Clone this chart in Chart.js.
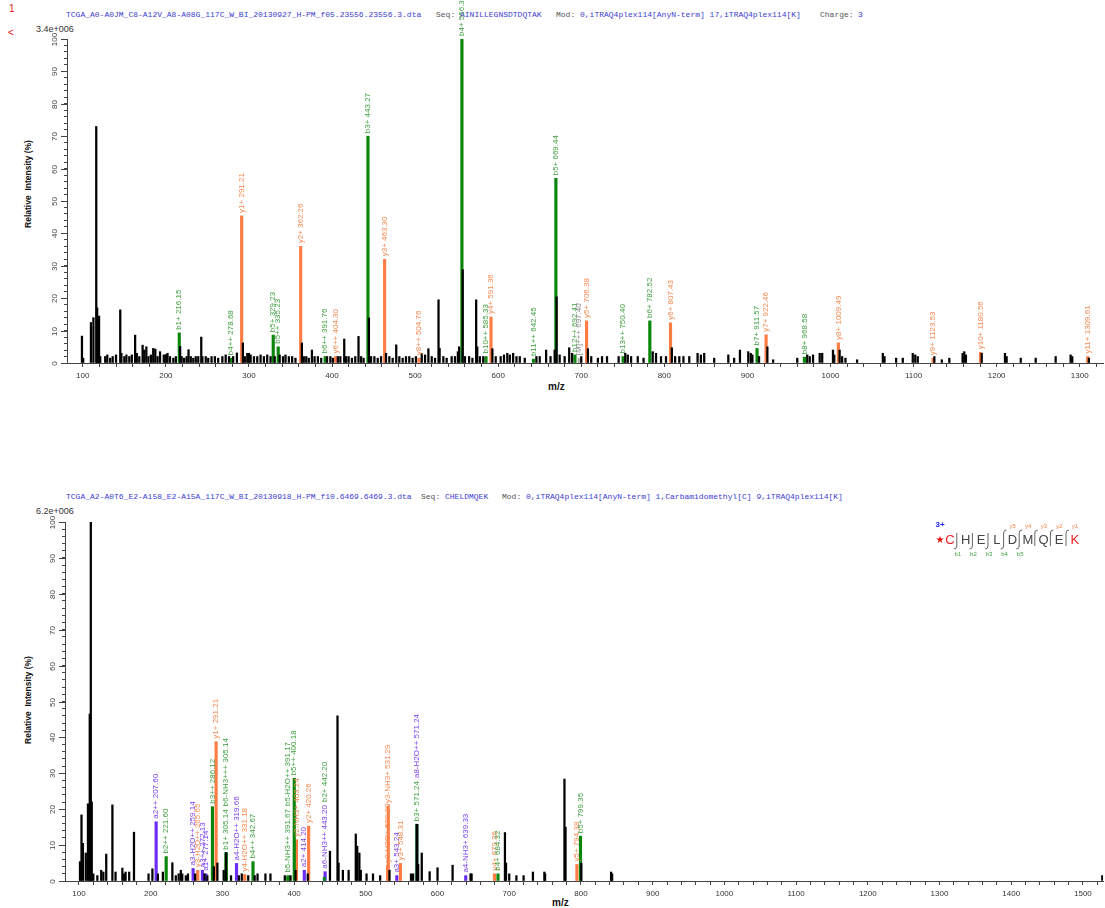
<!DOCTYPE html>
<html lang="en">
<head>
<meta charset="UTF-8">
<title>Annotated MS/MS spectra</title>
<script src="https://cdn.jsdelivr.net/npm/chart.js"></script>
<style>
  body { margin: 0; padding: 0; background: #fff; width: 1105px; height: 908px; position: relative; overflow: hidden;
         font-family: 'Liberation Sans', Arial, sans-serif; }
  canvas { position: absolute; left: 0; }
  .hdr { position: absolute; font-family: 'Liberation Mono', monospace; font-size: 8px; line-height: 10px; white-space: pre; }
  .blue { color: #3c3cd2; }
  .grey { color: #555; }
  .scale { position: absolute; font-size: 9px; color: #333; line-height: 10px; }
  .ytitle { position: absolute; width: 120px; height: 12px; line-height: 12px; text-align: center; font-weight: bold;
            font-size: 8.5px; color: #111; transform: rotate(-90deg); white-space: pre; }
  .xtitle { position: absolute; font-weight: bold; font-size: 10px; color: #111; }
  .mark { position: absolute; color: #e01010; font-size: 10px; }
</style>
</head>
<body>

<div class="mark" style="left:9px; top:3px;">1</div>
<div class="mark" style="left:8px; top:27px;">&lt;</div>

<!-- top header -->
<div class="hdr blue" style="left:66px; top:10px;">TCGA_A0-A0JM_C8-A12V_A8-A08G_117C_W_BI_20130927_H-PM_f05.23556.23556.3.dta</div>
<div class="hdr grey" style="left:436px; top:10px;">Seq:</div>
<div class="hdr blue" style="left:460px; top:10px;">AINILLEGNSDTDQTAK</div>
<div class="hdr grey" style="left:556px; top:10px;">Mod:</div>
<div class="hdr blue" style="left:580px; top:10px;">0,iTRAQ4plex114[AnyN-term] 17,iTRAQ4plex114[K]</div>
<div class="hdr grey" style="left:820px; top:10px;">Charge:</div>
<div class="hdr blue" style="left:858px; top:10px;">3</div>
<div class="scale" style="left:36px; top:24px;">3.4e+006</div>
<div class="ytitle" style="left:-32px; top:178px;">Relative  Intensity (%)</div>
<div class="xtitle" style="left:548px; top:381px;">m/z</div>

<!-- bottom header -->
<div class="hdr blue" style="left:66px; top:492px;">TCGA_A2-A0T6_E2-A158_E2-A15A_117C_W_BI_20130918_H-PM_f10.6469.6469.3.dta</div>
<div class="hdr grey" style="left:421px; top:492px;">Seq:</div>
<div class="hdr blue" style="left:445px; top:492px;">CHELDMQEK</div>
<div class="hdr grey" style="left:502px; top:492px;">Mod:</div>
<div class="hdr blue" style="left:526px; top:492px;">0,iTRAQ4plex114[AnyN-term] 1,Carbamidomethyl[C] 9,iTRAQ4plex114[K]</div>
<div class="scale" style="left:36px; top:506px;">6.2e+006</div>
<div class="ytitle" style="left:-32px; top:694px;">Relative  Intensity (%)</div>
<div class="xtitle" style="left:552px; top:897px;">m/z</div>

<canvas id="topSpec" width="1105" height="400" style="top:0px;"></canvas>
<canvas id="botSpec" width="1105" height="428" style="top:480px;"></canvas>

<script>
// ---------- top spectrum (AINILLEGNSDTDQTAK, 3+) ----------
const topPeakMz = [99.0, 100.5, 109.8, 112.8, 116.2, 117.3, 118.5, 119.6, 121, 127, 129.5, 133, 136, 140, 145.1, 146.5, 150, 152.5,
  156, 159, 163, 165, 168, 172, 174, 176.5, 179, 182, 184.8, 187.3, 190, 193, 197.5, 200, 202, 205, 209, 212, 217.2, 219, 222,
  225, 227.3, 230, 233, 236, 239, 242.6, 244, 248, 251, 255, 259, 263, 268, 272, 276, 281, 285.5, 292.7, 295, 298, 300, 302, 306,
  310, 314, 318, 322, 326, 331, 337, 341, 344, 348, 352, 356, 363.7, 366, 369, 372, 375.8, 379, 383, 387, 394, 398, 401, 407, 410,
  414.7, 417, 420, 424, 428, 431.9, 435, 438, 444.4, 447, 451, 455, 459, 465, 469, 473, 477.3, 481, 485, 489, 493, 497, 501, 508,
  512, 516, 520, 524, 528.2, 529.5, 534, 538, 544, 548, 551.5, 553, 557.3, 560, 565, 569, 573.5, 574.8, 578, 582, 593, 597, 603,
  607, 611, 614, 618, 622, 626, 632, 646, 650, 657.7, 663, 668, 670.3, 674, 680, 685.5, 689, 700, 708, 712, 720, 725, 731, 745,
  753, 756, 760, 768, 775, 786, 790, 796, 802, 809, 813, 818, 823, 830, 840, 844, 848, 860, 877, 884, 891, 901, 904, 906, 914,
  924, 931, 960, 972, 975, 979, 987, 990, 1003, 1004.5, 1011, 1014, 1018, 1032, 1063, 1065, 1079, 1087, 1099, 1102, 1105, 1125,
  1134, 1143, 1159, 1161, 1163, 1182, 1210, 1212, 1229, 1247, 1271, 1289, 1291, 1311];
const topPeakInt = [8.3, 1.5, 12.5, 14, 73, 17, 3, 14.5, 2, 2, 2.5, 1.5, 2, 2.5, 16.4, 3, 2, 2.5,
  2, 2.5, 8.6, 3, 2, 5.5, 4, 5, 2, 2.5, 4.5, 4.3, 2, 3.5, 2.5, 2.6, 3, 2, 1.5, 2, 5.1, 2, 1.5,
  2, 4.1, 2, 1.5, 2, 2, 8.0, 2, 2, 1.5, 2, 2, 1.5, 2, 2.5, 2, 2, 3.1, 6.2, 2, 3, 3, 2.5, 2,
  2, 2.5, 2, 2.5, 2, 2, 2.5, 2, 2.5, 2, 2, 1.5, 6.2, 2, 2, 1.5, 4, 2, 2, 1.5, 2, 2, 1.5, 2, 2,
  7.4, 2, 2, 1.5, 2, 8.2, 2, 1.5, 13.9, 2, 2, 1.5, 2, 3, 2, 1.5, 5.6, 2, 1.5, 2, 2, 1.5, 2, 3,
  2.5, 4.4, 2, 1.5, 19.5, 4.5, 2, 1.5, 2, 2, 3.5, 5, 28.8, 2, 2, 1.5, 19.5, 5, 2, 2, 4.4, 2, 2,
  2.5, 3, 2.5, 3, 2, 2, 1.5, 2, 2, 4, 2, 4, 20.4, 2.5, 2, 4.7, 3, 2, 4.4, 2, 1.5, 2, 2, 2,
  3, 2.5, 2, 2, 1.5, 3.5, 3, 2, 2, 4.7, 2, 2, 2, 2, 3, 2.5, 3, 1.5, 2.5, 1.5, 4, 3.5, 3, 2.5, 2,
  5, 1, 1.5, 2.5, 2, 2.5, 3, 3, 4, 2.5, 4, 2, 1.5, 1, 3, 2, 1.5, 1.5, 3, 2.5, 2, 2,
  1, 1.5, 3, 3.5, 2.5, 3, 3, 2, 1.5, 1.5, 2, 2.5, 2, 1.5];
const topIonMz = [216.15, 278.68, 291.21, 329.23, 335.23, 362.26, 391.76, 404.30, 443.27, 463.30, 504.76, 556.36, 585.33,
  591.36, 642.45, 669.44, 692.41, 697.40, 706.38, 750.40, 782.52, 807.43, 911.57, 922.46, 968.58, 1009.49, 1123.53, 1180.56, 1309.61];
const topIonInt = [9.3, 1.5, 45.4, 8.6, 5.0, 36, 2.0, 2.0, 70, 32, 1.5, 100, 2.0,
  14.2, 1.2, 57, 2.5, 1.5, 13, 2, 13, 12.4, 4.5, 8.7, 1.8, 6.2, 1.5, 3.3, 2.0];
const topIonName = ['b1+', 'b4++', 'y1+', 'b5+', 'b5++', 'y2+', 'b6++', 'y6++', 'b3+', 'y3+', 'y8++', 'b4+', 'b10++',
  'y4+', 'b11++', 'b5+', 'b12++', '[M]+++', 'y5+', 'b13++', 'b6+', 'y6+', 'b7+', 'y7+', 'b8+', 'y8+', 'y9+', 'y10+', 'y11+'];
const topIonType = ['b', 'b', 'y', 'b', 'b', 'y', 'b', 'y', 'b', 'y', 'y', 'b', 'b',
  'y', 'b', 'b', 'b', 'm', 'y', 'b', 'b', 'y', 'b', 'y', 'b', 'y', 'y', 'y', 'y'];
const topTickMz = [100, 200, 300, 400, 500, 600, 700, 800, 900, 1000, 1100, 1200, 1300];

// ---------- bottom spectrum (CHELDMQEK, 3+) ----------
const botPeakMz = [101.4, 103.5, 105.5, 109.5, 112.5, 115, 116.5, 117.8, 120, 125.6, 131, 134, 138, 146.6, 151, 160.5, 163, 165,
  170, 176.7, 197, 202.4, 210, 217, 230.2, 235, 239, 242, 244, 249, 252, 262, 275, 279, 288, 293, 301.8, 305.14, 312, 323, 327,
  336, 345, 349, 360, 367, 387, 395, 402, 419, 450, 460.5, 462, 468, 476, 486, 488, 491, 493, 501, 510, 520, 533, 563, 566,
  571.24, 573, 578, 589, 600, 621, 646, 647.5, 694, 695.5, 700, 710, 720, 733, 749, 750, 777, 778.5, 800.5, 842, 843.5, 1527];
const botPeakInt = [5.4, 18.4, 10.5, 7.8, 21.5, 46.5, 100, 22, 2, 1.5, 3, 2.5, 7.5, 21.2, 2.5, 3.6, 2, 2.5,
  2.5, 13.6, 2, 3.4, 2, 2.5, 5.1, 1.5, 2, 3, 2, 1.5, 2, 2, 2, 1.5, 4, 5, 3, 7.9, 1.5, 1.5, 2,
  1.5, 1.5, 2, 2, 2, 1.5, 1.5, 3, 2, 8.3, 46, 5, 3, 3, 13.1, 9.7, 7.8, 3, 2, 2, 1.5, 3, 2, 2,
  15.8, 4.6, 7.8, 2.6, 3.7, 4.4, 2, 2, 13.5, 5, 2, 1.5, 1.5, 2.5, 2.5, 2, 28.4, 15, 5, 2.5, 2, 1.5];
const botIonMz = [207.60, 221.60, 259.14, 265.65, 272.13, 277.14, 286.12, 291.21, 305.14, 305.14, 319.66, 331.18, 342.67,
  391.67, 391.17, 400.18, 403.24, 414.20, 420.26, 443.20, 442.20, 530.30, 531.29, 543.24, 548.31, 571.24, 571.24,
  639.33, 679.36, 684.32, 794.38, 799.35];
const botIonInt = [16.5, 6.8, 3.5, 3.0, 3.0, 2.0, 20.7, 38.8, 7.9, 7.9, 4.9, 1.8, 5.4,
  1.5, 1.2, 28.6, 11.5, 3.0, 15.3, 2.6, 1.0, 4.3, 20.9, 1.5, 4.9, 15.8, 15.8,
  1.5, 2.0, 2.0, 4.6, 12.5];
const botIonName = ['a2++', 'b2++', 'a3-H2O++', 'y3-H2O++', 'a3++', 'a1+', 'b3++', 'y1+', 'b1+', 'b6-NH3+++', 'a4-H2O++', 'y4-H2O++', 'b4++',
  'b5-NH3++', 'b5-H2O++', 'b5++', 'y2-NH3+', 'a2+', 'y2+', 'a6-NH3++', 'b2+', 'y3-H2O+', 'y3-NH3+', 'a3+', 'y3+', 'b3+', 'a8-H2O++',
  'a4-NH3+', 'y4+', 'b4+', 'y5+', 'b5+'];
const botIonType = ['a', 'b', 'a', 'y', 'a', 'a', 'b', 'y', 'b', 'b', 'a', 'y', 'b',
  'b', 'b', 'b', 'y', 'a', 'y', 'a', 'b', 'y', 'y', 'a', 'y', 'b', 'a',
  'a', 'y', 'b', 'y', 'b'];
const botTickMz = [100, 200, 300, 400, 500, 600, 700, 800, 900, 1000, 1100, 1200, 1300, 1400, 1500];

// peptide diagram of the bottom spectrum
const botResidues = ['C', 'H', 'E', 'L', 'D', 'M', 'Q', 'E', 'K'];
const botModified = [true, false, false, false, false, false, false, false, true];

const barColor = { b: '#0a870a', y: '#ff7d45', a: '#6b2cf5', m: '#b5b5b5' };
const textColor = { b: '#3f9f3f', y: '#f5884f', a: '#7a40ee', m: '#8c8c8c' };

function buildDatasets(peakMz, peakInt, ionMz, ionInt, ionType) {
  const sets = [];
  sets.push({
    data: peakMz.map((m, i) => ({ x: m, y: peakInt[i] })),
    backgroundColor: '#000', barThickness: 1.6, order: 0
  });
  ['b', 'y', 'a', 'm'].forEach(t => {
    const pts = [];
    ionMz.forEach((m, i) => { if (ionType[i] === t) pts.push({ x: m, y: ionInt[i] }); });
    if (pts.length) sets.push({ data: pts, backgroundColor: barColor[t], barThickness: 2.5, order: 1 });
  });
  return sets;
}

// peak annotations, stacked upward when two land on the same pixel column
const ionLabels = {
  id: 'ionLabels',
  afterDatasetsDraw(chart, args, opts) {
    const ctx = chart.ctx, xs = chart.scales.x, ys = chart.scales.y;
    ctx.save();
    ctx.font = '8px "Liberation Sans", Arial, sans-serif';
    ctx.textBaseline = 'middle';
    ctx.textAlign = 'left';
    const placed = [];
    opts.mz.forEach((m, i) => {
      const x = xs.getPixelForValue(m);
      const txt = opts.name[i] + ' ' + m.toFixed(2);
      const w = ctx.measureText(txt).width;
      let y0 = ys.getPixelForValue(opts.int[i]) - 3;
      let moved = true;
      while (moved) {
        moved = false;
        for (const p of placed) {
          if (Math.abs(p.x - x) < 3 && y0 > p.y1 && y0 - w < p.y0) { y0 = p.y1 - 3; moved = true; }
        }
      }
      placed.push({ x, y0, y1: y0 - w });
      ctx.save();
      ctx.translate(x, y0);
      ctx.rotate(-Math.PI / 2);
      ctx.fillStyle = textColor[opts.type[i]];
      ctx.fillText(txt, 0, 0);
      ctx.restore();
    });
    ctx.restore();
  }
};

// rotated y tick labels and longer major ticks
const yLabels = {
  id: 'yLabels',
  afterDraw(chart) {
    const ctx = chart.ctx, ys = chart.scales.y, left = chart.chartArea.left;
    ctx.save();
    ctx.strokeStyle = '#444';
    ctx.lineWidth = 1;
    ctx.fillStyle = '#444';
    ctx.font = '8px "Liberation Sans", Arial, sans-serif';
    ctx.textAlign = 'center';
    ctx.textBaseline = 'middle';
    for (let v = 0; v <= 100; v += 10) {
      const y = Math.round(ys.getPixelForValue(v)) + 0.5;
      ctx.beginPath(); ctx.moveTo(left - 6, y); ctx.lineTo(left, y); ctx.stroke();
      ctx.save();
      ctx.translate(left - 12, y);
      ctx.rotate(-Math.PI / 2);
      ctx.fillText(String(v), 0, 0);
      ctx.restore();
    }
    ctx.restore();
  }
};

// fragmentation map drawn in the corner of the bottom panel
const peptideMap = {
  id: 'peptideMap',
  afterDraw(chart, args, opts) {
    if (!opts.show) return;
    const ctx = chart.ctx;
    const x0 = 950, dx = 15.6, yText = 60;
    ctx.save();
    ctx.textAlign = 'center';
    ctx.textBaseline = 'middle';
    ctx.font = 'bold 8px "Liberation Sans", Arial, sans-serif';
    ctx.fillStyle = '#2020e0';
    ctx.fillText('3+', 940, 45);
    ctx.font = '10px "DejaVu Sans", sans-serif';
    ctx.fillStyle = '#e01010';
    ctx.fillText('\u2605', 940, yText);
    ctx.font = '13px "Liberation Sans", Arial, sans-serif';
    botResidues.forEach((r, i) => {
      ctx.fillStyle = botModified[i] ? '#e82020' : '#444';
      ctx.fillText(r, x0 + i * dx, yText);
    });
    ctx.strokeStyle = '#666';
    ctx.lineWidth = 1;
    ctx.font = '6px "Liberation Sans", Arial, sans-serif';
    for (let g = 1; g < botResidues.length; g++) {
      const gx = x0 + (g - 0.5) * dx - 1;
      const hasB = g <= 5, hasY = g >= 4;
      ctx.beginPath();
      ctx.moveTo(gx, yText - 7);
      ctx.lineTo(gx, yText + 6);
      ctx.stroke();
      if (hasB) {
        ctx.beginPath(); ctx.moveTo(gx, yText + 6); ctx.quadraticCurveTo(gx, yText + 9, gx - 3, yText + 9); ctx.stroke();
        ctx.fillStyle = '#3f9f3f';
        ctx.fillText('b' + g, gx + 1, yText + 14);
      }
      if (hasY) {
        ctx.beginPath(); ctx.moveTo(gx, yText - 7); ctx.quadraticCurveTo(gx, yText - 10, gx + 3, yText - 10); ctx.stroke();
        ctx.fillStyle = '#f5884f';
        ctx.fillText('y' + (botResidues.length - g), gx + 9, yText - 14);
      }
    }
    ctx.restore();
  }
};

function makeSpectrum(id, peakMz, peakInt, ionMz, ionInt, ionName, ionType, tickMz, xMin, xMax, padTop, yWidth, xHeight, padBottom, showMap) {
  return new Chart(document.getElementById(id), {
    type: 'bar',
    data: { datasets: buildDatasets(peakMz, peakInt, ionMz, ionInt, ionType) },
    options: {
      responsive: false,
      animation: false,
      layout: { padding: { left: 0, right: 2, top: padTop, bottom: padBottom } },
      plugins: {
        legend: { display: false },
        tooltip: { enabled: false },
        ionLabels: { mz: ionMz, int: ionInt, name: ionName, type: ionType },
        peptideMap: { show: showMap }
      },
      datasets: { bar: { grouped: false, borderWidth: 0 } },
      scales: {
        x: {
          type: 'linear', min: xMin, max: xMax, offset: false,
          afterFit: s => { s.height = xHeight; },
          border: { color: '#444', width: 1 },
          grid: { drawOnChartArea: false, offset: false, tickLength: 4, color: '#444' },
          ticks: {
            stepSize: 20, autoSkip: false, maxRotation: 0, includeBounds: false, padding: 4,
            color: '#333', font: { size: 8, family: '"Liberation Sans", Arial, sans-serif' },
            callback: v => tickMz.includes(v) ? String(v) : ''
          }
        },
        y: {
          min: 0, max: 100,
          afterFit: s => { s.width = yWidth; },
          border: { color: '#444', width: 1 },
          grid: { drawOnChartArea: false, tickLength: 3, color: '#444' },
          ticks: { stepSize: 2, display: false }
        }
      }
    },
    plugins: [ionLabels, yLabels, peptideMap]
  });
}

makeSpectrum('topSpec', topPeakMz, topPeakInt, topIonMz, topIonInt, topIonName, topIonType, topTickMz,
  81, 1328, 39, 67, 30, 7, false);
makeSpectrum('botSpec', botPeakMz, botPeakInt, botIonMz, botIonInt, botIonName, botIonType, botTickMz,
  80.5, 1528, 42, 65, 20, 7, true);
</script>
</body>
</html>
